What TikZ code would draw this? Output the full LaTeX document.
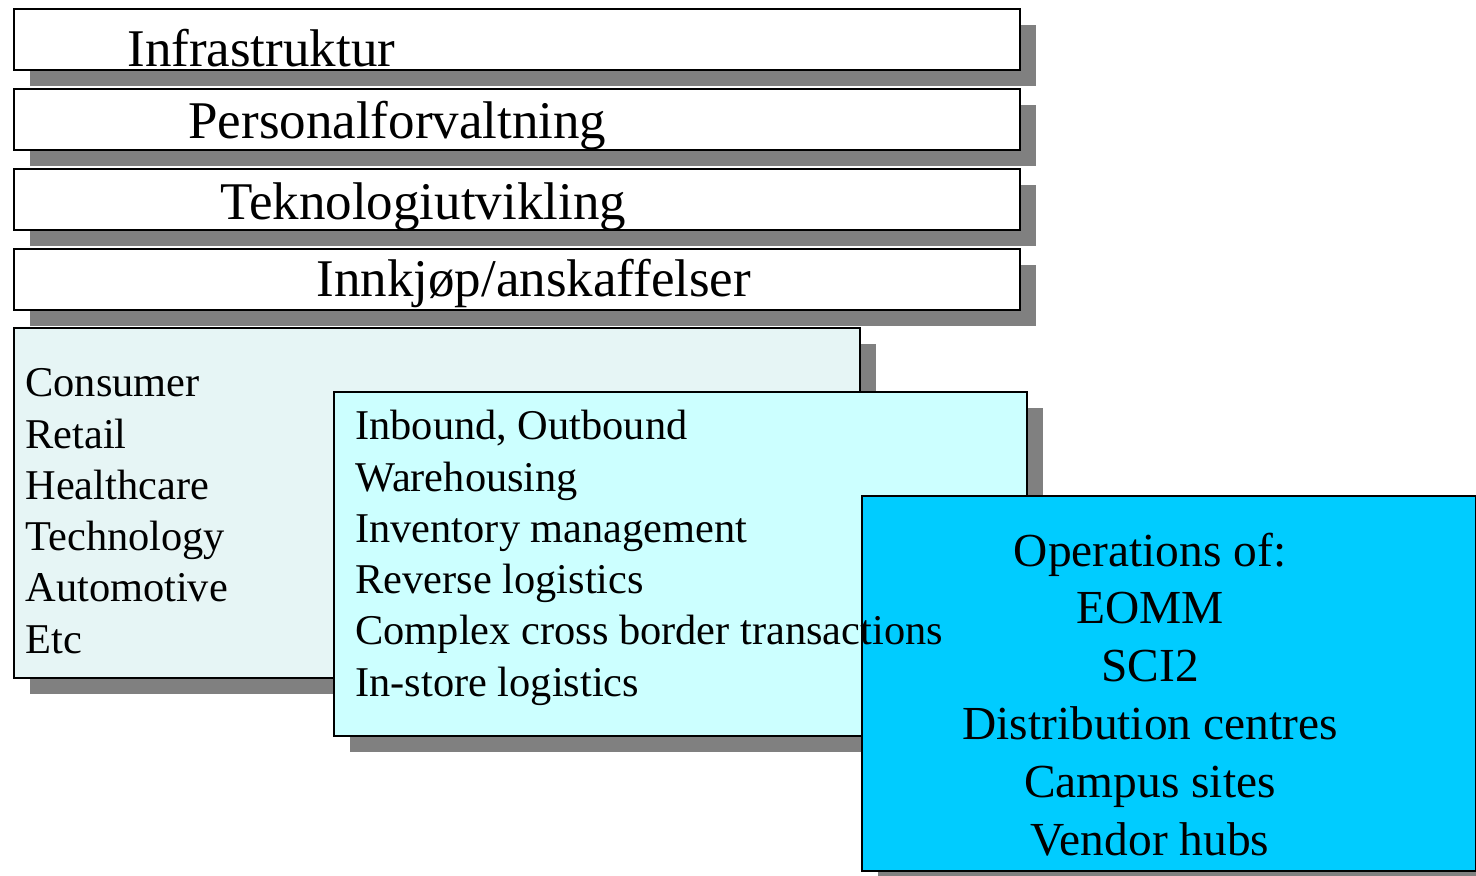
\documentclass[tikz,border=0pt]{standalone}
\usepackage{fontspec}
\setmainfont{Liberation Serif}
\usetikzlibrary{shadows}
\definecolor{shadow-gray}{RGB}{128,128,128}
\definecolor{pale-cyan}{RGB}{204,255,255}
\definecolor{sky-cyan}{RGB}{0,204,255}
\definecolor{dot-cyan}{RGB}{230,245,245}
\tikzset{
    flat-box/.style = {draw=black, line width=1.2pt, rectangle, anchor=north west, inner sep=0pt,
        drop shadow={shadow xshift=8pt, shadow yshift=-8pt, fill=shadow-gray, opacity=1}},
    bar-text/.style = {anchor=base west, inner sep=0pt, font=\fontsize{26.5}{30}\selectfont},
    list-text/.style = {anchor=base west, inner sep=0pt, font=\fontsize{21.2}{25}\selectfont},
    ops-text/.style = {anchor=base, inner sep=0pt, font=\fontsize{23.7}{28}\selectfont},
}

\begin{document}
\begin{tikzpicture}[x=0.5pt, y=-0.5pt]
\useasboundingbox (0,0) rectangle (1476,876);
% support activities
\node[flat-box, fill=white, minimum width=503pt, minimum height=30.5pt] (infra) at (13,8) {};
\node[flat-box, fill=white, minimum width=503pt, minimum height=30.5pt] (personal) at (13,88) {};
\node[flat-box, fill=white, minimum width=503pt, minimum height=30.5pt] (tekno) at (13,168) {};
\node[flat-box, fill=white, minimum width=503pt, minimum height=30.5pt] (innkjop) at (13,248) {};
\node[bar-text] (infra-text) at (127,67) {Infrastruktur};
\node[bar-text] (personal-text) at (188,139) {Personalforvaltning};
\node[bar-text] (tekno-text) at (220,220) {Teknologiutvikling};
\node[bar-text] (innkjop-text) at (316,297) {Innkjøp/anskaffelser};

% overlapping boxes
\node[flat-box, fill=dot-cyan, minimum width=423pt, minimum height=175pt] (sectors) at (13,327) {};
\node[flat-box, fill=pale-cyan, minimum width=346.5pt, minimum height=172pt] (services) at (333,391) {};
\node[flat-box, fill=sky-cyan, minimum width=307pt, minimum height=187.5pt] (operations) at (861,495) {};

\foreach \txt [count=\i from 0] in {Consumer, Retail, Healthcare, Technology, Automotive, Etc}
    \node[list-text] (sector-\i) at (25,397+51.2*\i) {\txt};
\foreach \txt [count=\i from 0] in {{Inbound, Outbound}, Warehousing, Inventory management, Reverse logistics,
        Complex cross border transactions, In-store logistics}
    \node[list-text] (service-\i) at (355,440+51.2*\i) {\txt};
\foreach \txt [count=\i from 0] in {Operations of:, EOMM, SCI2, Distribution centres, Campus sites, Vendor hubs}
    \node[ops-text] (ops-\i) at (1150,566+57.8*\i) {\txt};
\end{tikzpicture}
\end{document}
